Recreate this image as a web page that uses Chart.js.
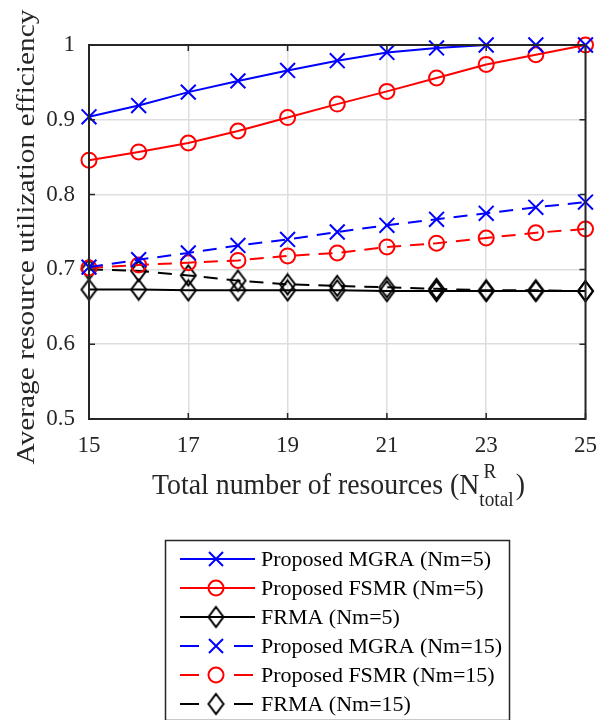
<!DOCTYPE html>
<html>
<head>
<meta charset="utf-8">
<script src="https://cdn.jsdelivr.net/npm/chart.js@4.4.1/dist/chart.umd.min.js"></script>
<style>
  html, body { margin: 0; padding: 0; background: #fff; }
  #wrap { width: 610px; height: 720px; }
</style>
</head>
<body>
<div id="wrap"><canvas id="efficiencyChart"></canvas></div>
<script>
// values
const resources = [15, 16, 17, 18, 19, 20, 21, 22, 23, 24, 25];
const mgra5  = [0.904, 0.919, 0.937, 0.952, 0.966, 0.979, 0.990, 0.996, 1.000, 1.000, 1.000];
const fsmr5  = [0.846, 0.857, 0.869, 0.885, 0.903, 0.921, 0.938, 0.956, 0.974, 0.987, 1.000];
const frma5  = [0.673, 0.673, 0.672, 0.672, 0.672, 0.672, 0.671, 0.671, 0.671, 0.671, 0.671];
const mgra15 = [0.703, 0.713, 0.722, 0.732, 0.740, 0.750, 0.759, 0.767, 0.775, 0.783, 0.790];
const fsmr15 = [0.702, 0.706, 0.709, 0.712, 0.718, 0.722, 0.730, 0.735, 0.742, 0.749, 0.754];
const frma15 = [0.700, 0.698, 0.692, 0.685, 0.680, 0.678, 0.676, 0.674, 0.672, 0.672, 0.671];
const xTicks = [15, 17, 19, 21, 23, 25];
const yTicks = [0.5, 0.6, 0.7, 0.8, 0.9, 1];

const serif = '"Liberation Serif", "Times New Roman", serif';
const axisColor = '#262626';

// hollow diamond marker (MATLAB style)
function makeDiamond(w, h) {
    const c = document.createElement('canvas');
    c.width = w + 4; c.height = h + 4;
    const g = c.getContext('2d');
    g.strokeStyle = '#000'; g.lineWidth = 2;
    g.beginPath();
    g.moveTo(c.width / 2, 2);
    g.lineTo(c.width - 2, c.height / 2);
    g.lineTo(c.width / 2, c.height - 2);
    g.lineTo(2, c.height / 2);
    g.closePath();
    g.stroke();
    return c;
}
const diamond = makeDiamond(15, 20);

function pts(vals) {
    return resources.map((r, i) => ({ x: r, y: vals[i] }));
}

function series(label, vals, color, marker, dashed) {
    const ds = {
        label: label,
        data: pts(vals),
        borderColor: color,
        borderWidth: 2,
        borderDash: dashed ? [14, 9] : [],
        pointStyle: marker === 'diamond' ? diamond : marker,
        pointRadius: marker === 'circle' ? 7.5 : 10.5,
        pointBorderColor: color,
        pointBackgroundColor: 'rgba(0,0,0,0)',
        pointBorderWidth: 2,
        fill: false,
        tension: 0,
        clip: false
    };
    ds.marker = marker;
    ds.dashed = dashed;
    return ds;
}

const frame = {
    id: 'frame',
    afterDraw(chart) {
        const { ctx, chartArea: a, scales: { x, y } } = chart;
        ctx.save();
        // axes box
        ctx.strokeStyle = axisColor;
        ctx.lineWidth = 2;
        ctx.setLineDash([]);
        ctx.strokeRect(a.left, a.top, a.right - a.left, a.bottom - a.top);
        // inward ticks
        ctx.lineWidth = 1.5;
        ctx.beginPath();
        xTicks.forEach(v => {
            const px = x.getPixelForValue(v);
            ctx.moveTo(px, a.bottom); ctx.lineTo(px, a.bottom - 6);
            ctx.moveTo(px, a.top); ctx.lineTo(px, a.top + 6);
        });
        yTicks.forEach(v => {
            const py = y.getPixelForValue(v);
            ctx.moveTo(a.left, py); ctx.lineTo(a.left + 6, py);
            ctx.moveTo(a.right, py); ctx.lineTo(a.right - 6, py);
        });
        ctx.stroke();

        // y title, stretched along its length like the original
        ctx.fillStyle = axisColor;
        ctx.font = '26px ' + serif;
        ctx.textAlign = 'center';
        ctx.textBaseline = 'alphabetic';
        const yTitle = 'Average resource utilization efficiency';
        const yw = ctx.measureText(yTitle).width;
        ctx.save();
        ctx.translate(34, 237);
        ctx.rotate(-Math.PI / 2);
        ctx.scale(455 / yw, 1);
        ctx.fillText(yTitle, 0, 0);
        ctx.restore();

        // x title with sup/sub
        const main = 'Total number of resources (N';
        ctx.textAlign = 'left';
        ctx.font = '26px ' + serif;
        const wMain = ctx.measureText(main).width;
        const wClose = ctx.measureText(')').width;
        ctx.font = '18px ' + serif;
        const wSub = ctx.measureText('total').width;
        const natural = wMain + wSub + wClose + 2;
        ctx.save();
        ctx.translate(152, 494);
        ctx.scale(373 / natural, 1.16);
        let tx = 0;
        ctx.font = '26px ' + serif;
        ctx.fillText(main, tx, 0);
        tx += wMain;
        ctx.font = '18px ' + serif;
        ctx.fillText('R', tx + 4, -14);
        ctx.fillText('total', tx, 10.5);
        tx += wSub + 2;
        ctx.font = '26px ' + serif;
        ctx.fillText(')', tx, 0);
        ctx.restore();

        // legend
        const lx = 165.5, ly = 540.5, lw = 344, lh = 180;
        ctx.fillStyle = '#fff';
        ctx.fillRect(lx, ly, lw, lh);
        ctx.strokeStyle = axisColor;
        ctx.lineWidth = 1.5;
        ctx.strokeRect(lx, ly, lw, lh);
        ctx.font = '22px ' + serif;
        ctx.textBaseline = 'middle';
        chart.data.datasets.forEach((ds, i) => {
            const cy = 559 + i * 29;
            const mx = 216;
            ctx.strokeStyle = ds.borderColor;
            ctx.lineWidth = 2;
            ctx.beginPath();
            if (ds.dashed) {
                ctx.moveTo(180, cy); ctx.lineTo(199, cy);
                ctx.moveTo(234, cy); ctx.lineTo(253, cy);
            } else {
                ctx.moveTo(180, cy); ctx.lineTo(255, cy);
            }
            ctx.stroke();
            ctx.beginPath();
            if (ds.marker === 'crossRot') {
                ctx.moveTo(mx - 7, cy - 7); ctx.lineTo(mx + 7, cy + 7);
                ctx.moveTo(mx - 7, cy + 7); ctx.lineTo(mx + 7, cy - 7);
                ctx.stroke();
            } else if (ds.marker === 'circle') {
                ctx.arc(mx, cy, 7.5, 0, Math.PI * 2);
                ctx.stroke();
            } else {
                ctx.drawImage(diamond, mx - diamond.width / 2, cy - diamond.height / 2);
            }
            ctx.fillStyle = '#000';
            ctx.fillText(ds.label, 261, cy + 1);
        });
        ctx.restore();
    }
};

new Chart(document.getElementById('efficiencyChart').getContext('2d'), {
    type: 'line',
    data: {
        datasets: [
            series('Proposed MGRA (Nm=5)', mgra5, '#0000ff', 'crossRot', false),
            series('Proposed FSMR (Nm=5)', fsmr5, '#ff0000', 'circle', false),
            series('FRMA (Nm=5)', frma5, '#000000', 'diamond', false),
            series('Proposed MGRA (Nm=15)', mgra15, '#0000ff', 'crossRot', true),
            series('Proposed FSMR (Nm=15)', fsmr15, '#ff0000', 'circle', true),
            series('FRMA (Nm=15)', frma15, '#000000', 'diamond', true)
        ]
    },
    options: {
        responsive: true,
        maintainAspectRatio: false,
        animation: false,
        layout: { padding: { left: 0, top: 45, right: 24, bottom: 256 } },
        plugins: { legend: { display: false }, tooltip: { enabled: false } },
        scales: {
            x: {
                type: 'linear',
                min: 15, max: 25,
                afterBuildTicks: s => { s.ticks = xTicks.map(v => ({ value: v })); },
                afterFit: s => { s.height = 45; },
                grid: { color: '#dedede', lineWidth: 1.5, drawTicks: false },
                border: { display: false },
                ticks: { color: axisColor, font: { family: serif, size: 23 }, padding: 13, maxRotation: 0 }
            },
            y: {
                min: 0.5, max: 1,
                afterBuildTicks: s => { s.ticks = yTicks.map(v => ({ value: v })); },
                afterFit: s => { s.width = 89; },
                grid: { color: '#dedede', lineWidth: 1.5, drawTicks: false },
                border: { display: false },
                ticks: { color: axisColor, font: { family: serif, size: 23 }, padding: 14,
                         callback: v => String(Number(v.toFixed(1))) }
            }
        }
    },
    plugins: [frame]
});
</script>
</body>
</html>
